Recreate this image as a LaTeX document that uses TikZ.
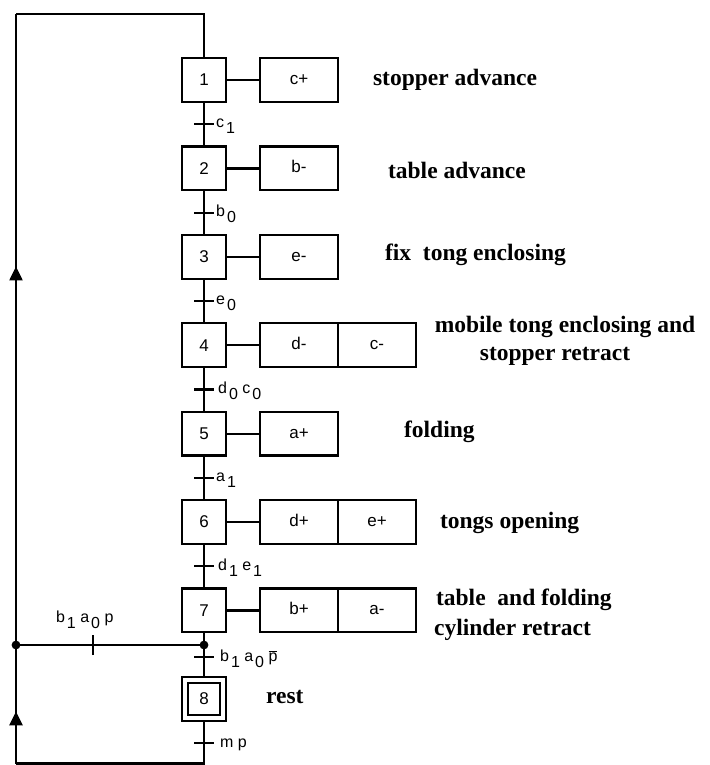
\documentclass[tikz,border=0pt]{standalone}
\usepackage{fontspec}
\setmainfont{Liberation Serif}
\newfontfamily\sansf{Liberation Sans}
\usetikzlibrary{arrows.meta,decorations.markings,calc}
\newcommand\lsub[1]{\hspace{2pt}\raisebox{-6pt}{#1}}
\begin{document}
\begin{tikzpicture}[x=1pt,y=-1pt,line width=2.2pt,
  stepbox/.style={draw,minimum size=43.8pt,inner sep=0pt,font=\sansf\fontsize{17}{20}\selectfont},
  initbox/.style={draw,double,double distance=3.6pt,minimum size=38pt,outer sep=4pt,inner sep=0pt,font=\sansf\fontsize{17}{20}\selectfont},
  actbox/.style={draw,minimum width=78pt,minimum height=43.8pt,inner sep=0pt,text height=12pt,text depth=3pt,font=\sansf\fontsize{17}{20}\selectfont},
  lab/.style={font=\sansf\fontsize{16}{18}\selectfont,anchor=base west,inner sep=0pt},
  desc/.style={font=\bfseries\fontsize{23.5}{28}\selectfont,anchor=base west,inner sep=0pt},
  descc/.style={font=\bfseries\fontsize{23.5}{28}\selectfont,anchor=base,inner sep=0pt},
  upar/.style={postaction={decorate},decoration={markings,mark=at position #1 with {\arrow{Triangle[length=14pt,width=13pt]}}}}
]
\useasboundingbox (0,0) rectangle (709,765);

% steps
\node[stepbox] (s1) at (204,80) {1};
\node[stepbox] (s2) at (204,168.4) {2};
\node[stepbox] (s3) at (204,256.8) {3};
\node[stepbox] (s4) at (204,345.2) {4};
\node[stepbox] (s5) at (204,433.6) {5};
\node[stepbox] (s6) at (204,522) {6};
\node[stepbox] (s7) at (204,610.4) {7};
\node[initbox] (s8) at (204,699) {8};

% actions
\node[actbox] (a1) at (299,80) {c+};
\node[actbox] (a2) at (299,168.4) {b-};
\node[actbox] (a3) at (299,256.8) {e-};
\node[actbox] (a4) at (299,345.2) {d-};
\node[actbox] (a4b) at (377,345.2) {c-};
\node[actbox] (a5) at (299,433.6) {a+};
\node[actbox] (a6) at (299,522) {d+};
\node[actbox] (a6b) at (377,522) {e+};
\node[actbox] (a7) at (299,610.4) {b+};
\node[actbox] (a7b) at (377,610.4) {a-};

\foreach \s/\a in {s1/a1,s2/a2,s3/a3,s4/a4,s5/a5,s6/a6,s7/a7}
  \draw (\s.east) -- (\a.west);

% vertical links and transitions
\foreach \u/\v in {s1/s2,s2/s3,s3/s4,s4/s5,s5/s6,s6/s7}{
  \draw (\u.south) -- (\v.north);
  \draw ($(\u.south)!0.5!(\v.north)+(-10,0)$) -- ++(20,0);
}

% coordinates of the loop
\coordinate (jr) at (204,645);
\coordinate (jl) at (16,645);
\coordinate (tl) at (16,14);
\coordinate (tr) at (204,14);
\coordinate (bl) at (16,763.5);
\coordinate (br) at (204,763.5);
\coordinate (t7) at (204,657);
\coordinate (t8) at (204,743);
\coordinate (tb) at (93,645);

\draw (s7.south) -- (jr) -- (s8.north);
\draw ([xshift=-10pt]t7) -- ([xshift=10pt]t7);
\draw (s8.south) -- (br) -- (bl);
\draw ([xshift=-10pt]t8) -- ([xshift=10pt]t8);
\draw[upar=0.44] (bl) -- (jl);
\draw (jr) -- (jl);
\draw ([yshift=-10pt]tb) -- ([yshift=10pt]tb);
\draw[upar=0.6] (jl) -- (tl);
\draw (tl) -- (tr) -- (s1.north);
\fill (jr) circle (4.4pt);
\fill (jl) circle (4.4pt);

% transition labels
\node[lab] (c1) at (215,128) {c\lsub{1}};
\node[lab] (b0) at (215,216.4) {b\lsub{0}};
\node[lab] (e0) at (215,304.8) {e\lsub{0}};
\node[lab] (d0) at (217,393.2) {d\lsub{0} c\lsub{0}};
\node[lab] (a1l) at (215,481.6) {a\lsub{1}};
\node[lab] (d1) at (217,570) {d\lsub{1} e\lsub{1}};
\node[lab] (bap) at (219,661) {b\lsub{1} a\lsub{0} $\overline{\mbox{p}}$};
\node[lab] (mp) at (219,747) {m p};
\node[lab] (bapl) at (55,622) {b\lsub{1} a\lsub{0} p};

% descriptions
\node[desc] (d1t) at (372,86) {stopper advance};
\node[desc] (d2t) at (387,178) {table advance};
\node[desc] (d3t) at (384,260) {fix\ \ tong enclosing};
\node[descc] (d4t) at (565,332) {mobile tong enclosing and};
\node[descc] (d4u) at (555,360) {stopper retract};
\node[desc] (d5t) at (403,437) {folding};
\node[desc] (d6t) at (439,528) {tongs opening};
\node[desc] (d7t) at (435,605) {table\ \ and folding};
\node[desc] (d7u) at (433,635) {cylinder retract};
\node[desc] (d8t) at (265,703) {rest};
\end{tikzpicture}
\end{document}
